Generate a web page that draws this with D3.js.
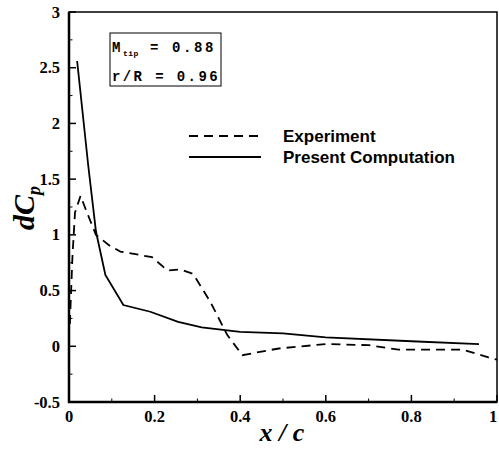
<!DOCTYPE html>
<html>
<head>
<meta charset="utf-8">
<script src="https://cdn.jsdelivr.net/npm/d3@7"></script>
<style>
  body { margin: 0; background: #fff; }
  svg { display: block; }
</style>
</head>
<body>
<div id="chart"></div>
<script>
// data
var expX = [0.002, 0.008, 0.014, 0.027, 0.040, 0.063, 0.096, 0.12, 0.194, 0.23, 0.26, 0.29, 0.33, 0.37, 0.405, 0.446, 0.49, 0.6, 0.7, 0.77, 0.92, 0.98, 1.0];
var expY = [0.2, 0.8, 1.2, 1.35, 1.22, 1.0, 0.9, 0.85, 0.8, 0.68, 0.69, 0.65, 0.4, 0.1, -0.08, -0.05, -0.02, 0.02, 0.01, -0.03, -0.03, -0.1, -0.12];

var compX = [0.019, 0.045, 0.063, 0.085, 0.127, 0.19, 0.255, 0.31, 0.40, 0.5, 0.6, 0.8, 0.958];
var compY = [2.56, 1.62, 1.03, 0.64, 0.37, 0.31, 0.22, 0.17, 0.13, 0.115, 0.08, 0.045, 0.02];

var xTicks = [0, 0.2, 0.4, 0.6, 0.8, 1];
var yTicks = [-0.5, 0, 0.5, 1, 1.5, 2, 2.5, 3];

var seriesNames = ["Experiment", "Present Computation"];

var width = 499, height = 449;
var plot = { left: 69, right: 497, top: 12, bottom: 402 };

var serif = "'Liberation Serif', 'Times New Roman', serif";
var mono = "'Liberation Mono', 'Courier New', monospace";

var svg = d3.select("#chart").append("svg")
  .attr("width", width)
  .attr("height", height);

var x = d3.scaleLinear().domain([0, 1]).range([plot.left, plot.right]);
var y = d3.scaleLinear().domain([-0.5, 3]).range([plot.bottom, plot.top]);

// minor ticks
var xMinor = d3.range(0.1, 1, 0.2);
var yMinor = d3.range(-0.25, 3, 0.5);

var g = svg.append("g");

g.selectAll(".xminor").data(xMinor).enter().append("line")
  .attr("x1", function(d) { return x(d); }).attr("x2", function(d) { return x(d); })
  .attr("y1", plot.bottom).attr("y2", plot.bottom - 3.5)
  .attr("stroke", "#000").attr("stroke-width", 1);

g.selectAll(".xmajor").data(xTicks).enter().append("line")
  .attr("x1", function(d) { return x(d); }).attr("x2", function(d) { return x(d); })
  .attr("y1", plot.bottom).attr("y2", plot.bottom - 7)
  .attr("stroke", "#000").attr("stroke-width", 1.5);

g.selectAll(".yminor").data(yMinor).enter().append("line")
  .attr("y1", function(d) { return y(d); }).attr("y2", function(d) { return y(d); })
  .attr("x1", plot.left).attr("x2", plot.left + 3.5)
  .attr("stroke", "#000").attr("stroke-width", 1);

g.selectAll(".ymajor").data(yTicks).enter().append("line")
  .attr("y1", function(d) { return y(d); }).attr("y2", function(d) { return y(d); })
  .attr("x1", plot.left).attr("x2", plot.left + 7)
  .attr("stroke", "#000").attr("stroke-width", 1.5);

// tick labels (last one kept inside the window)
g.selectAll(".xlab").data(xTicks).enter().append("text")
  .attr("x", function(d) { return Math.min(x(d), width - 6); })
  .attr("y", plot.bottom + 20)
  .attr("text-anchor", "middle")
  .style("font-family", serif)
  .style("font-weight", "bold")
  .style("font-size", "16.5px")
  .text(function(d) { return d; });

g.selectAll(".ylab").data(yTicks).enter().append("text")
  .attr("x", plot.left - 9)
  .attr("y", function(d) { return y(d) + 5.5; })
  .attr("text-anchor", "end")
  .style("font-family", serif)
  .style("font-weight", "bold")
  .style("font-size", "16.5px")
  .text(function(d) { return d; });

// frame
svg.append("rect")
  .attr("x", plot.left).attr("y", plot.top)
  .attr("width", plot.right - plot.left).attr("height", plot.bottom - plot.top)
  .attr("fill", "none").attr("stroke", "#000").attr("stroke-width", 1.5);
svg.append("path")
  .attr("d", "M" + plot.left + "," + plot.top + "V" + plot.bottom + "H" + plot.right)
  .attr("fill", "none").attr("stroke", "#000").attr("stroke-width", 2.5);

// lines
var line = d3.line()
  .x(function(d) { return x(d[0]); })
  .y(function(d) { return y(d[1]); });

var expData = expX.map(function(v, i) { return [v, expY[i]]; });
var compData = compX.map(function(v, i) { return [v, compY[i]]; });

svg.append("path")
  .datum(expData)
  .attr("d", line)
  .attr("fill", "none").attr("stroke", "#000").attr("stroke-width", 1.8)
  .attr("stroke-dasharray", "9,6");

svg.append("path")
  .datum(compData)
  .attr("d", line)
  .attr("fill", "none").attr("stroke", "#000").attr("stroke-width", 1.8);

// legend
var legY = [136, 157];
var legend = svg.append("g");
legend.selectAll("line").data(seriesNames).enter().append("line")
  .attr("x1", 189).attr("x2", 261)
  .attr("y1", function(d, i) { return legY[i]; })
  .attr("y2", function(d, i) { return legY[i]; })
  .attr("stroke", "#000").attr("stroke-width", 1.8)
  .attr("stroke-dasharray", function(d, i) { return i === 0 ? "9,6" : null; });
legend.selectAll("text").data(seriesNames).enter().append("text")
  .attr("x", 283)
  .attr("y", function(d, i) { return legY[i] + 6; })
  .style("font-family", "'Liberation Sans', Arial, sans-serif")
  .style("font-weight", "bold")
  .style("font-size", "17px")
  .text(function(d) { return d; });

// parameter box
svg.append("rect")
  .attr("x", 110).attr("y", 33).attr("width", 111).attr("height", 53)
  .attr("fill", "#fff").attr("stroke", "#000").attr("stroke-width", 1);

var t1 = svg.append("text").attr("x", 112).attr("y", 52)
  .style("font-family", mono).style("font-weight", "bold").style("font-size", "14px")
  .style("letter-spacing", "2.6px");
t1.append("tspan").text("M");
t1.append("tspan").attr("dy", 4).style("font-size", "8px").style("letter-spacing", "0.5px").text("tip");
t1.append("tspan").attr("dy", -4).text(" = 0.88");

svg.append("text").attr("x", 112).attr("y", 81)
  .style("font-family", mono).style("font-weight", "bold").style("font-size", "14px")
  .style("letter-spacing", "2.4px")
  .text("r/R = 0.96");

// axis titles
svg.append("text")
  .attr("x", 282).attr("y", 441)
  .attr("text-anchor", "middle")
  .style("font-family", serif)
  .style("font-weight", "bold").style("font-style", "italic")
  .style("font-size", "26px")
  .text("x / c");

var yt = svg.append("text")
  .attr("transform", "translate(34,208) rotate(-90)")
  .attr("text-anchor", "middle")
  .style("font-family", serif)
  .style("font-weight", "bold").style("font-style", "italic")
  .style("font-size", "30px");
yt.append("tspan").text("dC");
yt.append("tspan").attr("dy", 6).style("font-size", "18px").text("p");
</script>
</body>
</html>
